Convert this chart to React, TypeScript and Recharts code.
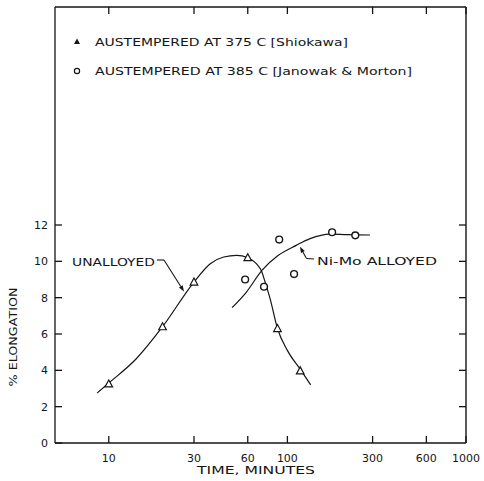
import React from 'react';
import { ComposedChart, Line, Scatter, XAxis, YAxis } from 'recharts';

// ticks
const timeTicks = [10, 30, 60, 100, 300, 600, 1000];
const elongTicks = [0, 2, 4, 6, 8, 10, 12];

// measured points, austempered at 375 C (Shiokawa) - triangles
const shiokawaTime = [10, 20, 30, 60, 88, 118];
const shiokawaElong = [3.25, 6.4, 8.86, 10.2, 6.3, 3.97];

// measured points, austempered at 385 C (Janowak & Morton) - circles
const janowakTime = [58, 74, 90, 109, 178, 240];
const janowakElong = [9.0, 8.6, 11.2, 9.3, 11.6, 11.43];

// hand drawn trend curves
const unalloyedTime = [8.6, 10, 14.3, 20, 30, 37, 44, 52, 60, 67, 72, 75, 80, 88, 100, 120, 135];
const unalloyedElong = [2.75, 3.3, 4.65, 6.4, 8.86, 9.87, 10.24, 10.33, 10.2, 9.87, 9.41, 8.86, 7.95, 6.3, 5.1, 3.96, 3.2];
const nimoTime = [49, 59, 72, 89, 112, 134, 173, 215, 290];
const nimoElong = [7.45, 8.31, 9.5, 10.33, 10.88, 11.25, 11.5, 11.47, 11.45];

const toRows = (xs: number[], ys: number[]) => xs.map((x, i) => ({ x, y: ys[i] }));

const FONT = '"DejaVu Sans", sans-serif';
const INK = '#151515';

const XTickBottom = (props: any) => {
  const { x, y, payload } = props;
  return (
    <g>
      <line x1={x} y1={y} x2={x} y2={y - 7} stroke={INK} strokeWidth={1.3} />
      <text x={x} y={y + 19} textAnchor="middle" fontSize={11} fontFamily={FONT} fill={INK}>
        {payload.value}
      </text>
    </g>
  );
};

const XTickTop = (props: any) => {
  const { x, y } = props;
  return <line x1={x} y1={y} x2={x} y2={y + 7} stroke={INK} strokeWidth={1.3} />;
};

const YTickLeft = (props: any) => {
  const { x, y, payload } = props;
  return (
    <g>
      <line x1={x} y1={y} x2={x + 7} y2={y} stroke={INK} strokeWidth={1.3} />
      <text x={x - 7} y={y + 4} textAnchor="end" fontSize={11} fontFamily={FONT} fill={INK}>
        {payload.value}
      </text>
    </g>
  );
};

const YTickRight = (props: any) => {
  const { x, y, payload } = props;
  if (payload.value === 0) return null;
  return <line x1={x} y1={y} x2={x - 7} y2={y} stroke={INK} strokeWidth={1.3} />;
};

const OpenTriangle = (props: any) => {
  const { cx, cy } = props;
  return (
    <polygon
      points={`${cx},${cy - 4} ${cx - 3.8},${cy + 3} ${cx + 3.8},${cy + 3}`}
      fill="#fff"
      stroke={INK}
      strokeWidth={1.2}
    />
  );
};

const OpenCircle = (props: any) => {
  const { cx, cy } = props;
  return <circle cx={cx} cy={cy} r={3.4} fill="#fff" stroke={INK} strokeWidth={1.4} />;
};

const Arrow = ({ x1, y1, x2, y2 }: { x1: number; y1: number; x2: number; y2: number }) => {
  const dx = x2 - x1;
  const dy = y2 - y1;
  const len = Math.sqrt(dx * dx + dy * dy);
  const ux = dx / len;
  const uy = dy / len;
  const bx = x2 - ux * 6;
  const by = y2 - uy * 6;
  const head = `${x2},${y2} ${bx - uy * 2.2},${by + ux * 2.2} ${bx + uy * 2.2},${by - ux * 2.2}`;
  return (
    <g>
      <line x1={x1} y1={y1} x2={bx} y2={by} stroke={INK} strokeWidth={1.1} />
      <polygon points={head} fill={INK} />
    </g>
  );
};

export default function App() {
  return (
    <div style={{ position: 'absolute', left: 0, top: 0, width: 484, height: 481, background: '#fff' }}>
      <ComposedChart
        width={484}
        height={481}
        margin={{ top: 6, right: 17, bottom: 0, left: 0 }}
      >
        <XAxis
          dataKey="x"
          type="number"
          scale="log"
          domain={[5, 1000]}
          allowDataOverflow
          ticks={timeTicks}
          interval={0}
          height={38}
          tickSize={0}
          tickMargin={0}
          tick={<XTickBottom />}
          axisLine={{ stroke: INK, strokeWidth: 1.4 }}
          tickLine={false}
        />
        <XAxis
          xAxisId="top"
          orientation="top"
          dataKey="x"
          type="number"
          scale="log"
          domain={[5, 1000]}
          allowDataOverflow
          ticks={timeTicks}
          interval={0}
          height={1}
          tickSize={0}
          tickMargin={0}
          tick={<XTickTop />}
          axisLine={{ stroke: INK, strokeWidth: 1.3 }}
          tickLine={false}
        />
        <YAxis
          dataKey="y"
          type="number"
          domain={[0, 24]}
          allowDataOverflow
          ticks={elongTicks}
          interval={0}
          width={55}
          tickSize={0}
          tickMargin={0}
          tick={<YTickLeft />}
          axisLine={{ stroke: INK, strokeWidth: 1.3 }}
          tickLine={false}
        />
        <YAxis
          yAxisId="r"
          orientation="right"
          type="number"
          domain={[0, 24]}
          allowDataOverflow
          ticks={elongTicks}
          interval={0}
          width={1}
          tickSize={0}
          tickMargin={0}
          tick={<YTickRight />}
          axisLine={{ stroke: INK, strokeWidth: 1.4 }}
          tickLine={false}
        />
        <Line
          data={toRows(unalloyedTime, unalloyedElong)}
          dataKey="y"
          type="monotone"
          stroke={INK}
          strokeWidth={1.2}
          dot={false}
          activeDot={false}
          isAnimationActive={false}
        />
        <Line
          data={toRows(nimoTime, nimoElong)}
          dataKey="y"
          type="monotone"
          stroke={INK}
          strokeWidth={1.2}
          dot={false}
          activeDot={false}
          isAnimationActive={false}
        />
        <Scatter
          data={toRows(shiokawaTime, shiokawaElong)}
          dataKey="y"
          shape={<OpenTriangle />}
          isAnimationActive={false}
        />
        <Scatter
          data={toRows(janowakTime, janowakElong)}
          dataKey="y"
          shape={<OpenCircle />}
          isAnimationActive={false}
        />
      </ComposedChart>

      {/* legend, curve labels and axis titles */}
      <svg
        width={484}
        height={481}
        style={{ position: 'absolute', left: 0, top: 0, pointerEvents: 'none' }}
        fontFamily={FONT}
        fill={INK}
      >
        <polygon points="77,38.5 74,44 80,44" fill={INK} />
        <text x={95} y={46} fontSize={11} textLength={253} lengthAdjust="spacingAndGlyphs">
          AUSTEMPERED AT 375 C [Shiokawa]
        </text>
        <circle cx={77} cy={71} r={2.6} fill="none" stroke={INK} strokeWidth={1.2} />
        <text x={95} y={75} fontSize={11} textLength={317} lengthAdjust="spacingAndGlyphs">
          AUSTEMPERED AT 385 C [Janowak &amp; Morton]
        </text>

        <text x={72} y={266} fontSize={11} textLength={83} lengthAdjust="spacingAndGlyphs">
          UNALLOYED
        </text>
        <line x1={157} y1={260} x2={164} y2={260} stroke={INK} strokeWidth={1.1} />
        <Arrow x1={164} y1={260} x2={184} y2={291.5} />

        <text x={317} y={265} fontSize={11} textLength={120} lengthAdjust="spacingAndGlyphs">
          Ni-Mo ALLOYED
        </text>
        <line x1={314} y1={259} x2={306.5} y2={258.5} stroke={INK} strokeWidth={1.1} />
        <Arrow x1={306.5} y1={258.5} x2={300} y2={246.7} />

        <text x={256} y={474} fontSize={11} textAnchor="middle" textLength={118} lengthAdjust="spacingAndGlyphs">
          TIME, MINUTES
        </text>
        <text
          x={0}
          y={0}
          fontSize={11}
          textAnchor="middle"
          textLength={99}
          lengthAdjust="spacingAndGlyphs"
          transform="translate(17,337) rotate(-90)"
        >
          % ELONGATION
        </text>
      </svg>
    </div>
  );
}
